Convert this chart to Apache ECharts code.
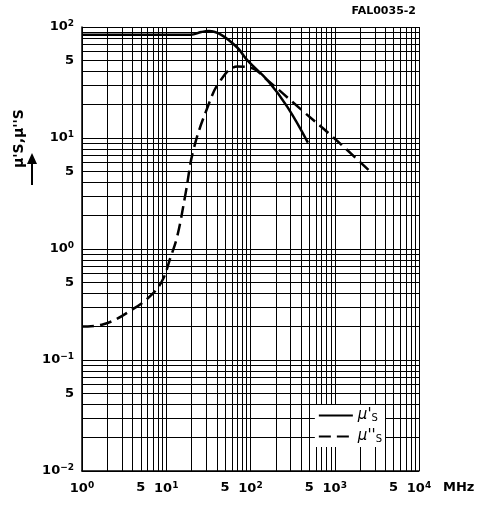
<!DOCTYPE html>
<html><head><meta charset="utf-8">
<script src="https://cdn.jsdelivr.net/npm/echarts@6/dist/echarts.min.js"></script>
<style>html,body{margin:0;background:#fff}#c{width:488px;height:507px}</style></head>
<body><div id="c"></div>
<script>
// frequency in MHz, permeability values
const muRealFreq = [1, 5, 10, 19.5, 26, 32, 45, 70, 92, 160, 275, 480];
const muRealVal  = [85, 85, 85, 85, 90, 92, 85, 65, 50, 33, 19, 9.1];
const muImagFreq = [1, 1.8, 4.1, 7, 9.2, 11, 13.5, 17, 21, 31, 44, 70, 100, 160, 400, 980, 2700];
const muImagVal  = [0.2, 0.21, 0.29, 0.4, 0.54, 0.8, 1.3, 3.2, 7.8, 19, 33, 44, 43, 33, 18, 10, 4.9];
const xTickExp = [0, Math.log10(5), 1, 1+Math.log10(5), 2, 2+Math.log10(5), 3, 3+Math.log10(5), 4];
const yTickExp = [-2, -2+Math.log10(5), -1, -1+Math.log10(5), 0, Math.log10(5), 1, 1+Math.log10(5), 2];

function fmt(v){
  const r = Math.round(v);
  if (Math.abs(v - r) < 1e-6) return '10{s|' + (r < 0 ? '−' + (-r) : r) + '}';
  return '5';
}
const rich = {s:{fontSize:9, verticalAlign:'top', padding:[0,0,6,0], fontFamily:'DejaVu Sans', fontWeight:'bold'}};
const gridLine = {show:true, lineStyle:{color:'#000', width:1}};
const chart = echarts.init(document.getElementById('c'));
chart.setOption({
  animation:false,
  grid:{left:82, right:69, top:27, bottom:36},
  xAxis:[
    {type:'log', min:1, max:10000, logBase:10, axisLabel:{show:false}, axisTick:{show:false},
     axisLine:{show:true, onZero:false, lineStyle:{color:'#000', width:1.5}},
     splitLine:gridLine, minorTick:{show:false, splitNumber:9},
     minorSplitLine:{show:true, lineStyle:{color:'#000', width:1}}},
    {type:'value', min:0, max:4, position:'bottom', axisLine:{show:false}, axisTick:{show:false}, splitLine:{show:false},
     axisLabel:{customValues:xTickExp, formatter:fmt, rich:rich, color:'#000', fontSize:13, fontWeight:'bold', fontFamily:'DejaVu Sans', margin:10}}
  ],
  yAxis:[
    {type:'log', min:0.01, max:100, logBase:10, axisLabel:{show:false}, axisTick:{show:false},
     axisLine:{show:true, onZero:false, lineStyle:{color:'#000', width:1.5}},
     splitLine:gridLine, minorTick:{show:false, splitNumber:9},
     minorSplitLine:{show:true, lineStyle:{color:'#000', width:1}}},
    {type:'value', min:-2, max:2, position:'left', axisLine:{show:false}, axisTick:{show:false}, splitLine:{show:false},
     axisLabel:{customValues:yTickExp, formatter:fmt, rich:rich, color:'#000', fontSize:13, fontWeight:'bold', fontFamily:'DejaVu Sans', margin:8}}
  ],
  legend:{right:103, top:405, orient:'vertical', itemWidth:34, itemHeight:10, itemGap:6, backgroundColor:'#fff',
    padding:[3,3,3,3], itemStyle:{opacity:0},
    textStyle:{color:'#000', fontSize:15, fontFamily:'DejaVu Sans', fontStyle:'italic', rich:{s:{fontSize:10, fontStyle:'normal', verticalAlign:'bottom'}}},
    data:["μ'", "μ''"],
    formatter: n => n + '{s|S}'},
  series:[
    {name:"μ'", type:'line', smooth:0.4, symbol:'none', lineStyle:{color:'#000', width:2.5}, itemStyle:{color:'#000'},
     data: muRealFreq.map((f,i)=>[f, muRealVal[i]])},
    {name:"μ''", type:'line', smooth:0.4, symbol:'none', lineStyle:{color:'#000', width:2.5, type:[12,6]}, itemStyle:{color:'#000'},
     data: muImagFreq.map((f,i)=>[f, muImagVal[i]])}
  ],
  graphic:[
    {type:'text', right:72, top:6, style:{text:'FAL0035-2', fill:'#000', font:'bold 11px DejaVu Sans'}},
    {type:'text', x:443, y:481, style:{text:'MHz', fill:'#000', font:'bold 13px DejaVu Sans'}},
    {type:'text', x:12, y:168, rotation:Math.PI/2, style:{text:"μ'S,μ''S", fill:'#000', font:'bold 14px DejaVu Sans'}},
    {type:'line', shape:{x1:32, y1:185, x2:32, y2:162}, style:{stroke:'#000', lineWidth:2}},
    {type:'polygon', shape:{points:[[27,164],[37,164],[32,153]]}, style:{fill:'#000'}}
  ]
});
</script></body></html>
